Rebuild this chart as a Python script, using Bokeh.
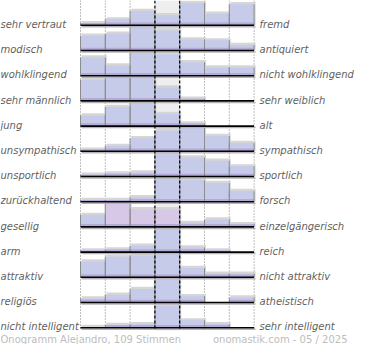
from bokeh.plotting import figure
from bokeh.models import Range1d, ColumnDataSource
from bokeh.core.properties import value
from bokeh.embed import file_html
from bokeh.resources import INLINE

# ---- data (share of votes per scale step) ----
left_labels = ["sehr vertraut", "modisch", "wohlklingend", "sehr männlich", "jung",
               "unsympathisch", "unsportlich", "zurückhaltend", "gesellig", "arm",
               "attraktiv", "religiös", "nicht intelligent"]
right_labels = ["fremd", "antiquiert", "nicht wohlklingend", "sehr weiblich", "alt",
                "sympathisch", "sportlich", "forsch", "einzelgängerisch", "reich",
                "nicht attraktiv", "atheistisch", "sehr intelligent"]
vertraut = [2, 6, 15, 10.5, 23.5, 12, 22]
modisch = [15.5, 17.5, 24.5, 21, 11.5, 10.5, 5.5]
wohlklingend = [19, 10.5, 24.5, 22.5, 14, 8.5, 8.5]
maennlich = [22, 24, 24.5, 14, 2, 0, 0]
jung = [11, 20, 25, 12.5, 2.5, 0, 0]
unsympathisch = [1.5, 5.5, 13.5, 21.5, 24.5, 16, 8.5]
unsportlich = [1.5, 3, 4, 24.5, 20, 16.5, 10.5]
zurueckhaltend = [1.5, 1.5, 4.5, 24.5, 22.5, 19.5, 11]
gesellig = [12.5, 24.5, 18.5, 18.5, 4, 7.5, 2.5]
arm = [1.5, 2.5, 6.5, 24.5, 4.5, 1.5, 0]
attraktiv = [16.5, 21.5, 23, 24.5, 9.5, 3.5, 3.5]
religioes = [4, 8, 14, 24.5, 6.5, 0, 5]
intelligent = [0.5, 2.5, 3.5, 23, 7.5, 3.5, 0]
rows = [vertraut, modisch, wohlklingend, maennlich, jung, unsympathisch, unsportlich,
        zurueckhaltend, gesellig, arm, attraktiv, religioes, intelligent]
footer_left = "Onogramm Alejandro, 109 Stimmen"
footer_right = "onomastik.com - 05 / 2025"

# ---- layout ----
W, H = 354, 344
X0, CW = 80.0, 24.8
B0, PITCH, K = 24.5, 25.2, 0.94
n = len(rows)
bases = [B0 + PITCH * i for i in range(n)]
y_end = bases[-1] + 3

p = figure(width=W, height=H, x_range=Range1d(0, W), y_range=Range1d(H, 0),
           output_backend="svg", toolbar_location=None, x_axis_type=None,
           y_axis_type=None, min_border=0, outline_line_color=None,
           background_fill_color="white", border_fill_color="white")
p.grid.grid_line_color = None

# middle column background
p.quad(left=[X0 + 3 * CW], right=[X0 + 4 * CW], top=[0], bottom=[y_end],
       fill_color="#eeeeee", line_color=None)

# dotted separators
dx = [X0 + k * CW for k in (0, 1, 2, 5, 6, 7)]
p.segment(x0=dx, y0=[0] * len(dx), x1=dx, y1=[y_end] * len(dx),
          line_color="#7a7a7a", line_dash="1 2", line_width=1)

# bars
L, R, T, B, C, ST = [], [], [], [], [], []
for r, vals in enumerate(rows):
    for i, v in enumerate(vals):
        if v <= 0:
            continue
        L.append(X0 + i * CW)
        R.append(X0 + (i + 1) * CW)
        T.append(bases[r] - v * K)
        B.append(bases[r])
        ST.append(bases[r] - min(2.5, v * K))
        C.append("#d8c8e8" if (r == 8 and i in (1, 2, 3)) else "#c6cbea")

src = ColumnDataSource(dict(l=L, r=R, t=T, b=B, c=C, st=ST,
                            ls=[x + 1 for x in L], rs=[x + 1.5 for x in R],
                            ts=[y - 2.2 for y in T]))
p.quad(left="ls", right="rs", top="ts", bottom="b", source=src,
       fill_color="#d6d6d6", line_color=None)
p.quad(left="l", right="r", top="t", bottom="b", source=src,
       fill_color="c", line_color=None)
p.quad(left="l", right="r", top="st", bottom="b", source=src,
       fill_color="#b3aad9", line_color=None)
p.segment(x0="l", y0="b", x1="l", y1="t", source=src, line_color="#8c8c8c", line_width=1)
p.segment(x0="r", y0="b", x1="r", y1="t", source=src, line_color="#8c8c8c", line_width=1)

# baselines with shadow
xe = X0 + 7 * CW
p.segment(x0=[X0 + 1] * n, y0=[b + 1.8 for b in bases], x1=[xe + 1.5] * n,
          y1=[b + 1.8 for b in bases], line_color="#b5b5b5", line_width=1.5)
p.segment(x0=[X0] * n, y0=[b + 0.3 for b in bases], x1=[xe] * n,
          y1=[b + 0.3 for b in bases], line_color="black", line_width=1.6)

# middle column dashed borders
mx = [X0 + 3 * CW, X0 + 4 * CW]
p.segment(x0=mx, y0=[0, 0], x1=mx, y1=[y_end, y_end], line_color="black",
          line_dash="3 2", line_width=1.2)

# labels
lab = ColumnDataSource(dict(y=[b - 0.5 for b in bases], lt=left_labels, rt=right_labels))
p.text(x=0, y="y", text="lt", source=lab, text_font=value("DejaVu Sans"),
       text_font_style="italic", text_font_size="10px", text_color="#5f5f5f",
       text_align="left", text_baseline="alphabetic")
p.text(x=259, y="y", text="rt", source=lab, text_font=value("DejaVu Sans"),
       text_font_style="italic", text_font_size="10px", text_color="#5f5f5f",
       text_align="left", text_baseline="alphabetic")

# footer
p.text(x=[0], y=[339], text=[footer_left], text_font=value("DejaVu Sans"),
       text_font_size="10px", text_color="#bdbdbd", text_align="left",
       text_baseline="alphabetic")
p.text(x=[347], y=[339], text=[footer_right], text_font=value("DejaVu Sans"),
       text_font_size="10px", text_color="#bdbdbd", text_align="right",
       text_baseline="alphabetic")

open("out.html", "w").write(file_html(p, INLINE))
